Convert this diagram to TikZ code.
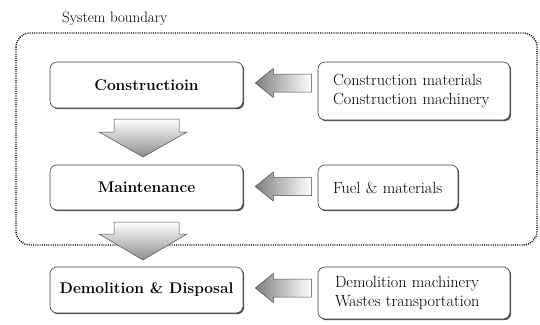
\documentclass[tikz,border=0pt]{standalone}
\usetikzlibrary{calc,shadows}
\begin{document}
\begin{tikzpicture}[x=1pt,y=-1pt,
  stagebox/.style={draw=black!75, line width=0.6pt, rounded corners=7pt, fill=white,
    minimum width=193pt, minimum height=46pt, font=\fontsize{15.5}{18}\selectfont\bfseries,
    drop shadow={shadow xshift=1.2pt, shadow yshift=-1.2pt, fill=black!70, opacity=1}},
  inputbox/.style={draw=black!75, line width=0.6pt, rounded corners=7pt, fill=white,
    align=left, font=\fontsize{16.2}{19}\selectfont,
    drop shadow={shadow xshift=1.2pt, shadow yshift=-1.2pt, fill=black!70, opacity=1}},
  blockarrow/.style={draw=black!70, line width=0.5pt},
  boundary/.style={draw=black, line width=1.4pt, dash pattern=on 1pt off 1.2pt, rounded corners=14pt}
]
\useasboundingbox (0,0) rectangle (540,324);

% system boundary
\coordinate (bTL) at (16,33);
\coordinate (bBR) at (537,245);
\draw[boundary] (bTL) rectangle (bBR);
\node[font=\fontsize{15}{18}\selectfont, anchor=west, inner sep=0pt] (blabel) at (62,19) {System boundary};

% stage boxes
\node[stagebox] (con) at (146.5,85) {Constructioin};
\node[stagebox, minimum height=45pt] (mai) at (146.5,187.5) {Maintenance};
\node[stagebox] (dem) at (146.5,290) {Demolition \& Disposal};

% input boxes
\node[inputbox, minimum width=192pt, minimum height=58pt, text width=162pt] (in1) at (414,91) {Construction materials\\Construction machinery};
\node[inputbox, minimum width=140pt, minimum height=45pt, text width=110pt] (in2) at (388,187.5) {Fuel \& materials};
\node[inputbox, minimum width=192pt, minimum height=52pt, text width=158pt] (in3) at (414,293) {Demolition machinery\\Wastes transportation};

% left block arrows (input -> stage)
\foreach \s/\t/\yy in {in1/con/83, in2/mai/186.5, in3/dem/288} {
  \draw[blockarrow, left color=black!50, right color=white]
    ($(\s.west |- 0,\yy)+(-6,-9)$) -- ($(\t.east |- 0,\yy)+(30,-9)$)
    -- ($(\t.east |- 0,\yy)+(30,-14.5)$) -- ($(\t.east |- 0,\yy)+(12,0)$)
    -- ($(\t.east |- 0,\yy)+(30,14.5)$) -- ($(\t.east |- 0,\yy)+(30,9)$)
    -- ($(\s.west |- 0,\yy)+(-6,9)$) -- cycle;
}

% down block arrows (stage -> stage)
\foreach \s/\t/\ttop/\thead/\ttip in {con/mai/119/132/157, mai/dem/222/234/260} {
  \draw[blockarrow, top color=white, bottom color=black!45]
    ($(\s.south |- 0,\ttop)+(-32.5,0)$) -- ($(\s.south |- 0,\ttop)+(32.5,0)$)
    -- ($(\s.south |- 0,\thead)+(32.5,0)$) -- ($(\s.south |- 0,\thead)+(40.5,0)$)
    -- ($(\s.south |- 0,\ttip)+(-3.5,0)$) -- ($(\s.south |- 0,\thead)+(-47.5,0)$)
    -- ($(\s.south |- 0,\thead)+(-32.5,0)$) -- cycle;
}
\end{tikzpicture}
\end{document}
